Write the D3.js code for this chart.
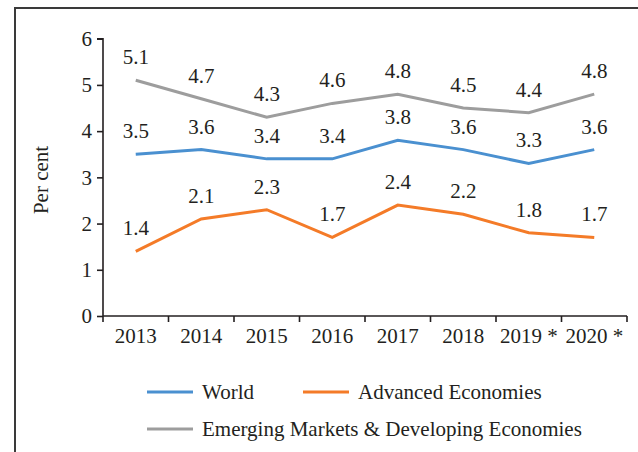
<!DOCTYPE html>
<html>
<head>
<meta charset="utf-8">
<script src="https://cdn.jsdelivr.net/npm/d3@7"></script>
<style>
  body { margin: 0; background: #fff; }
  text { font-family: "Liberation Serif", serif; fill: #231f20; }
</style>
</head>
<body>
<div id="chart"></div>
<script>
// data
var years = ["2013", "2014", "2015", "2016", "2017", "2018", "2019 *", "2020 *"];
var world = [3.5, 3.6, 3.4, 3.4, 3.8, 3.6, 3.3, 3.6];
var advanced = [1.4, 2.1, 2.3, 1.7, 2.4, 2.2, 1.8, 1.7];
var emerging = [5.1, 4.7, 4.3, 4.6, 4.8, 4.5, 4.4, 4.8];
var yTicks = [0, 1, 2, 3, 4, 5, 6];
var seriesNames = ["World", "Advanced Economies", "Emerging Markets & Developing Economies"];
var seriesColors = ["#4a90d0", "#f47b28", "#9d9d9d"];

var W = 638, H = 452;
var fs = "21px";
var svg = d3.select("#chart").append("svg")
    .attr("width", W).attr("height", H);

// frame (top + left only)
svg.append("path")
    .attr("d", "M15,452 L15,8 L638,8")
    .attr("fill", "none")
    .attr("stroke", "#3a3a3a")
    .attr("stroke-width", 2);

var x = d3.scaleBand().domain(years).range([103, 627]);
var y = d3.scaleLinear().domain([0, 6]).range([316, 38.7]);

// y axis
var gY = svg.append("g").attr("transform", "translate(103,0)")
    .call(d3.axisLeft(y).tickValues(yTicks).tickSize(6).tickPadding(5).tickFormat(d3.format("d")));
// x axis
var gX = svg.append("g").attr("transform", "translate(0,316)")
    .call(d3.axisBottom(x).tickSize(0).tickPadding(12));

[gX, gY].forEach(function(g) {
  g.select(".domain").attr("stroke", "#231f20").attr("stroke-width", 1.6);
  g.selectAll(".tick line").attr("stroke", "#231f20").attr("stroke-width", 1.6);
  g.selectAll("text").style("font-size", fs).attr("fill", "#231f20");
});
gY.select(".domain").attr("d", "M-6," + y(6) + "H0V" + y(0));
gX.select(".domain").attr("d", "M103,0H627");

// x ticks at band edges
var edges = years.map(function(d) { return x(d); }).concat([x.range()[1]]);
gX.selectAll(".edge").data(edges).enter().append("line")
    .attr("x1", function(d) { return d; }).attr("x2", function(d) { return d; })
    .attr("y1", 0).attr("y2", 6)
    .attr("stroke", "#231f20").attr("stroke-width", 1.6);
gX.selectAll(".tick text").attr("dy", "0.71em");

// y title
svg.append("text")
    .attr("transform", "translate(48,180) rotate(-90)")
    .attr("text-anchor", "middle")
    .style("font-size", fs)
    .text("Per cent");

var line = d3.line()
    .x(function(d, i) { return x(years[i]) + x.bandwidth() / 2; })
    .y(function(d) { return y(d); });

var allSeries = [world, advanced, emerging];
allSeries.forEach(function(s, k) {
  svg.append("path")
      .datum(s)
      .attr("d", line)
      .attr("fill", "none")
      .attr("stroke", seriesColors[k])
      .attr("stroke-width", 3);
  svg.selectAll(".lab" + k).data(s).enter().append("text")
      .attr("x", function(d, i) { return x(years[i]) + x.bandwidth() / 2; })
      .attr("y", function(d) { return y(d) - 16; })
      .attr("text-anchor", "middle")
      .style("font-size", fs)
      .text(function(d) { return d3.format(".1f")(d); });
});

// legend
var legendPos = [[147, 392], [303, 392], [147, 429]];
seriesNames.forEach(function(n, k) {
  var g = svg.append("g").attr("transform", "translate(" + legendPos[k][0] + "," + legendPos[k][1] + ")");
  g.append("line").attr("x1", 0).attr("x2", 46).attr("y1", 0).attr("y2", 0)
      .attr("stroke", seriesColors[k]).attr("stroke-width", 3);
  g.append("text").attr("x", 55).attr("y", 7)
      .style("font-size", fs)
      .text(n);
});
</script>
</body>
</html>
